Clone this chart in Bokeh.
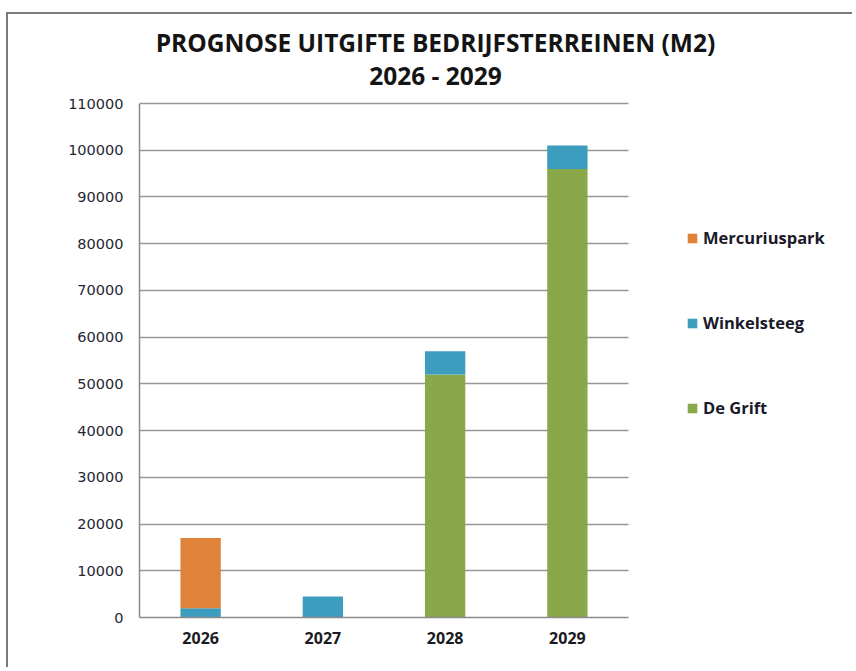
from bokeh.plotting import figure
from bokeh.models import (Range1d, FixedTicker, BasicTickFormatter,
                          Legend, LegendItem, Label, ColumnDataSource)
from bokeh.embed import file_html
from bokeh.resources import INLINE

# ---- data ----
years = ["2026", "2027", "2028", "2029"]
series = ["De Grift", "Winkelsteeg", "Mercuriuspark"]
de_grift = [0, 0, 52000, 96000]
winkelsteeg = [2000, 4500, 5000, 5000]
mercuriuspark = [15000, 0, 0, 0]
y_ticks = [0, 10000, 20000, 30000, 40000, 50000, 60000, 70000, 80000, 90000, 100000, 110000]
title_lines = ["PROGNOSE UITGIFTE BEDRIJFSTERREINEN (M2)", "2026 - 2029"]

colors = ["#88A84A", "#3C9DBE", "#E0833A"]

# ---- layout constants (pixels) ----
W, H = 846, 655
LEFT, BOTTOM = 131, 52          # space for the axes
AXIS_TOP_PX = 89                 # where 110000 sits, from the canvas top
PLOT_W_PX = 489                  # width of the category area
frame_h = H - BOTTOM
frame_w = W - LEFT
y_max = y_ticks[-1]
n = len(years)
y_end = y_max * frame_h / (frame_h - AXIS_TOP_PX)
x_end = n * frame_w / PLOT_W_PX

# category centres in the axis' own units
xpos = [i + 0.5 for i in range(n)]

source = ColumnDataSource(data={"x": xpos, "years": years, "De Grift": de_grift,
                                "Winkelsteeg": winkelsteeg, "Mercuriuspark": mercuriuspark})

p = figure(x_range=Range1d(0, x_end), y_range=Range1d(0, y_end),
           width=W, height=H, output_backend="svg", toolbar_location=None,
           min_border_left=LEFT, min_border_right=0, min_border_top=0,
           min_border_bottom=BOTTOM)
p.title.visible = False

renderers = p.vbar_stack(series, x="x", width=0.33, fill_color=colors,
                         line_color=None, source=source)

# axes
p.xaxis.ticker = FixedTicker(ticks=xpos)
p.xaxis.major_label_overrides = {x: y for x, y in zip(xpos, years)}
p.xaxis.bounds = (0, n)
p.yaxis.ticker = FixedTicker(ticks=y_ticks)
p.yaxis.formatter = BasicTickFormatter(use_scientific=False)
p.yaxis.bounds = (0, y_max)
for ax in (p.xaxis[0], p.yaxis[0]):
    ax.axis_line_color = "#8a8a8a"
    ax.axis_line_width = 1.5
    ax.major_tick_line_color = None
    ax.minor_tick_line_color = None
    ax.major_tick_out = 0
    ax.major_tick_in = 0
    ax.major_label_standoff = 16
p.yaxis.major_label_text_font = "DejaVu Sans"
p.yaxis.major_label_text_font_size = "14.5px"
p.yaxis.major_label_text_color = "#262633"
p.xaxis.major_label_text_font = "Open Sans"
p.xaxis.major_label_text_font_style = "bold"
p.xaxis.major_label_text_font_size = "16px"
p.xaxis.major_label_text_color = "#1a1a22"
p.xaxis.major_label_standoff = 14

p.xgrid.grid_line_color = None
p.ygrid.grid_line_color = "#979797"
p.ygrid.grid_line_width = 1.5
p.ygrid.cross_bounds = (0, n)
p.outline_line_color = None
p.background_fill_color = "white"
p.border_fill_color = "white"

# legend
items = [LegendItem(label=s, renderers=[r]) for s, r in zip(series, renderers)][::-1]
legend = Legend(items=items, location=(547, 198), orientation="vertical",
                spacing=62, padding=0, margin=0, glyph_width=12, glyph_height=12,
                label_height=12, label_standoff=5, border_line_color=None,
                background_fill_alpha=0,
                label_text_font="Open Sans", label_text_font_style="bold",
                label_text_font_size="16.5px", label_text_color="#1a1a2a")
p.add_layout(legend)

# title lines, centred over the whole chart
px_per_unit = (frame_h - AXIS_TOP_PX) / y_max
title_x = (427 - LEFT) * n / PLOT_W_PX
for txt, above_px in zip(title_lines, [61, 28]):
    p.add_layout(Label(x=title_x, y=y_max + above_px / px_per_unit, text=txt,
                       text_align="center", text_baseline="alphabetic",
                       text_font="Open Sans", text_font_style="bold",
                       text_font_size="24.5px", text_color="#141414"))

p.styles = {"margin-left": "6px", "margin-top": "12px",
            "border-left": "2px solid #7a7a7a", "border-top": "2px solid #7a7a7a"}

open("out.html", "w").write(file_html(p, INLINE))
